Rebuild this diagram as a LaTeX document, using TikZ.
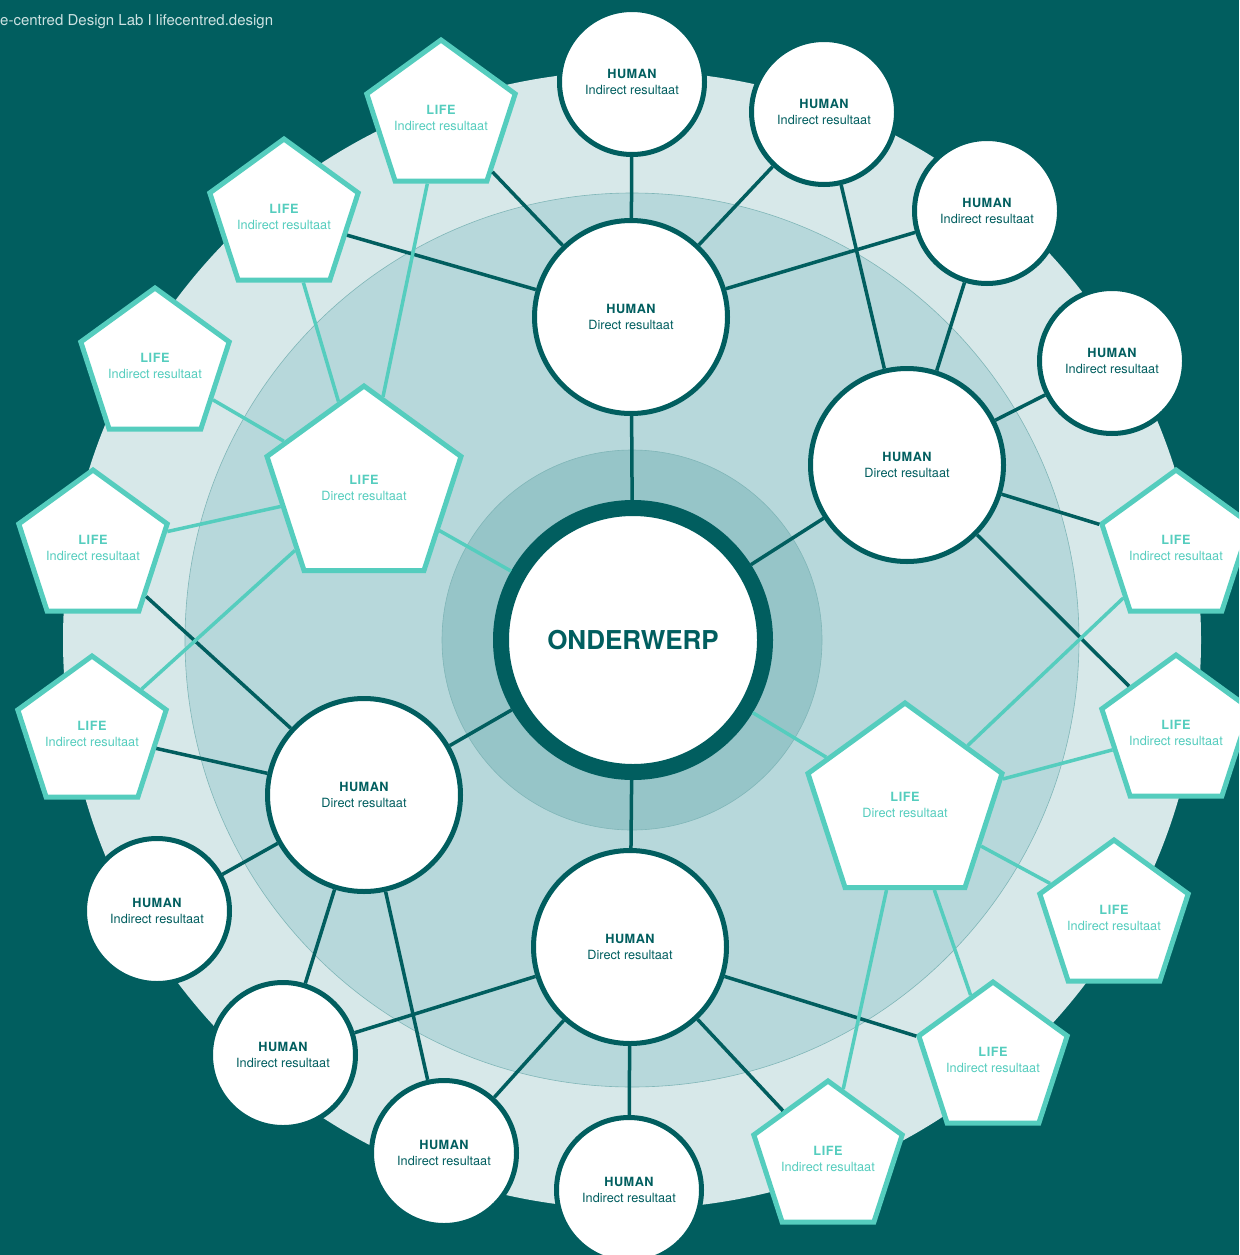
\documentclass[tikz,border=0pt]{standalone}
\usepackage{fontspec}
\setmainfont{TeX Gyre Heros}
\usetikzlibrary{shapes.geometric}
\definecolor{deep}{HTML}{015E5F}
\definecolor{ringa}{HTML}{D7E8E9}
\definecolor{ringb}{HTML}{B7D8DB}
\definecolor{ringc}{HTML}{96C5C8}
\definecolor{mint}{HTML}{55CDBE}
\definecolor{credit}{HTML}{CDE2E2}
\newcommand{\hum}[1]{{\bfseries\addfontfeature{LetterSpace=4}HUMAN}\\#1 resultaat}
\newcommand{\lif}[1]{{\bfseries\addfontfeature{LetterSpace=4}LIFE}\\#1 resultaat}
\tikzset{
	human/.style={circle, draw=deep, fill=white, line width=5pt, inner sep=0pt, text=deep, align=center, font=\fontsize{12.7}{16}\selectfont},
	humanind/.style={human, minimum size=145pt},
	humandir/.style={human, minimum size=193pt},
	life/.style={regular polygon, regular polygon sides=5, draw=mint, fill=white, line width=5pt, inner sep=-20pt, text=mint, align=center, font=\fontsize{12.7}{16}\selectfont},
	lifeind/.style={life, minimum size=156pt},
	lifedir/.style={life, minimum size=204pt},
	hline/.style={draw=deep, line width=3.5pt},
	lline/.style={draw=mint, line width=3.5pt}
}
\begin{document}
\begin{tikzpicture}[x=1pt, y=-1pt]
				\useasboundingbox (0,0) rectangle (1239,1255);
				\clip (0,0) rectangle (1239,1255);
				\fill[deep] (0,0) rectangle (1239,1255);
				\fill[ringa] (632,640) circle (569);
				\filldraw[fill=ringb, draw=ringc!85!deep, line width=0.6pt] (632,640) circle (447);
				\filldraw[fill=ringc, draw=ringc!85!deep, line width=0.6pt] (632,640) circle (190);
				\node[anchor=west, inner sep=0pt, text=credit, font=\fontsize{15}{18}\selectfont] (credit) at (0,22) {e-centred Design Lab I lifecentred.design};

				\node[circle, draw=deep, fill=white, line width=16pt, minimum size=264pt, inner sep=0pt, text=deep, font=\fontsize{26}{30}\selectfont\bfseries] (o) at (633,640) {ONDERWERP};

				\node[humandir] (d1) at (631,317) {\hum{Direct}};
				\node[humandir] (d2) at (907,465) {\hum{Direct}};
				\node[humandir] (d3) at (630,947) {\hum{Direct}};
				\node[humandir] (d4) at (364,795) {\hum{Direct}};
				\node[lifedir] (l1) at (364,488) {\lif{Direct}};
				\node[lifedir] (l2) at (905,805) {\lif{Direct}};

				\node[humanind] (h1) at (632,82) {\hum{Indirect}};
				\node[humanind] (h2) at (824,112) {\hum{Indirect}};
				\node[humanind] (h3) at (987,211) {\hum{Indirect}};
				\node[humanind] (h4) at (1112,361) {\hum{Indirect}};
				\node[humanind] (h5) at (157,911) {\hum{Indirect}};
				\node[humanind] (h6) at (283,1055) {\hum{Indirect}};
				\node[humanind] (h7) at (444,1153) {\hum{Indirect}};
				\node[humanind] (h8) at (629,1190) {\hum{Indirect}};

				\node[lifeind] (i1) at (441,118) {\lif{Indirect}};
				\node[lifeind] (i2) at (284,217) {\lif{Indirect}};
				\node[lifeind] (i3) at (155,366) {\lif{Indirect}};
				\node[lifeind] (i4) at (93,548) {\lif{Indirect}};
				\node[lifeind] (i5) at (92,734) {\lif{Indirect}};
				\node[lifeind] (i6) at (1176,548) {\lif{Indirect}};
				\node[lifeind] (i7) at (1176,733) {\lif{Indirect}};
				\node[lifeind] (i8) at (1114,918) {\lif{Indirect}};
				\node[lifeind] (i9) at (993,1060) {\lif{Indirect}};
				\node[lifeind] (i10) at (828,1159) {\lif{Indirect}};

				\draw[hline] (o) -- (d1);
				\draw[hline] (o) -- (d2);
				\draw[hline] (o) -- (d3);
				\draw[hline] (o) -- (d4);
				\draw[lline] (o) -- (l1);
				\draw[lline] (o) -- (l2);

				\draw[hline] (d1) -- (h1);
				\draw[hline] (d1) -- (h2);
				\draw[hline] (d1) -- (h3);
				\draw[hline] (d1) -- (i1);
				\draw[hline] (d1) -- (i2);

				\draw[hline] (d2) -- (h2);
				\draw[hline] (d2) -- (h3);
				\draw[hline] (d2) -- (h4);
				\draw[hline] (d2) -- (i6);
				\draw[hline] (d2) -- (i7);

				\draw[hline] (d3) -- (h6);
				\draw[hline] (d3) -- (h7);
				\draw[hline] (d3) -- (h8);
				\draw[hline] (d3) -- (i9);
				\draw[hline] (d3) -- (i10);

				\draw[hline] (d4) -- (i4);
				\draw[hline] (d4) -- (i5);
				\draw[hline] (d4) -- (h5);
				\draw[hline] (d4) -- (h6);
				\draw[hline] (d4) -- (h7);

				\draw[lline] (l1) -- (i1);
				\draw[lline] (l1) -- (i2);
				\draw[lline] (l1) -- (i3);
				\draw[lline] (l1) -- (i4);
				\draw[lline] (l1) -- (i5);

				\draw[lline] (l2) -- (i6);
				\draw[lline] (l2) -- (i7);
				\draw[lline] (l2) -- (i8);
				\draw[lline] (l2) -- (i9);
				\draw[lline] (l2) -- (i10);
\end{tikzpicture}
\end{document}
